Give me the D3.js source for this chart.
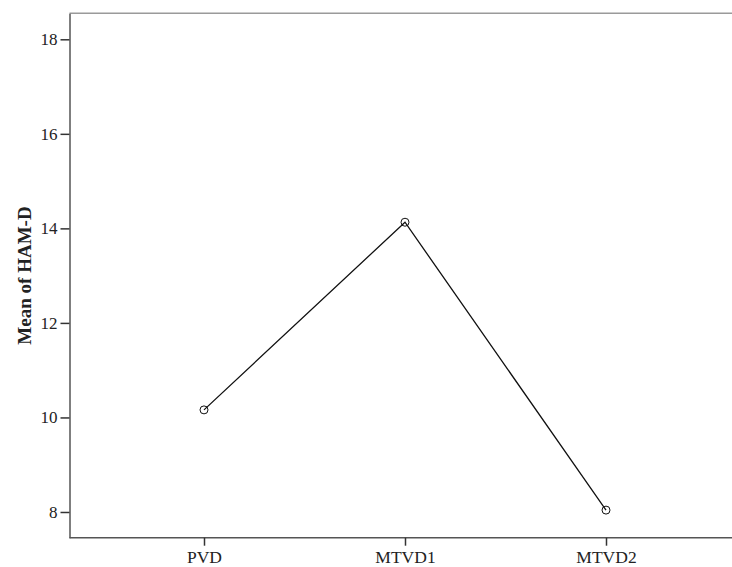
<!DOCTYPE html>
<html><head><meta charset="utf-8">
<script src="https://cdn.jsdelivr.net/npm/d3@7"></script>
<style>body{margin:0;background:#fff}svg{display:block}</style>
</head><body>
<svg id="c" width="732" height="567"></svg>
<script>
const categories = ["PVD", "MTVD1", "MTVD2"];
const means = [10.16, 14.13, 8.04];
const yTicks = [8, 10, 12, 14, 16, 18];

(function () {
const svg = d3.select("#c");
const mLeft = 69.5, mRight = 745, mTop = 13.3, mBottom = 537.7;
const x = d3.scalePoint().domain(categories).range([103.5, 706.5]).padding(0.5);
const y = d3.scaleLinear().domain([7.456, 18.55]).range([mBottom, mTop]);

svg.append("line").attr("x1", mLeft).attr("x2", mRight).attr("y1", mTop).attr("y2", mTop)
  .attr("stroke", "#9a9a9a").attr("stroke-width", 1.5);
svg.append("line").attr("x1", mLeft).attr("x2", mRight).attr("y1", mBottom).attr("y2", mBottom)
  .attr("stroke", "#555").attr("stroke-width", 1.5);

const font = "'Liberation Serif', serif";
const ya = svg.append("g").attr("transform", `translate(${mLeft},0)`)
  .call(d3.axisLeft(y).tickValues(yTicks).tickSize(9).tickSizeOuter(0).tickPadding(3).tickFormat(d3.format("d")));
ya.select(".domain").attr("stroke", "#555").attr("stroke-width", 1.5);
ya.selectAll(".tick line").attr("stroke", "#333").attr("stroke-width", 1.5);
ya.selectAll("text").attr("font-family", font).attr("font-size", 17).attr("fill", "#222");

const xa = svg.append("g").attr("transform", `translate(0,${mBottom})`)
  .call(d3.axisBottom(x).tickSize(8).tickSizeOuter(0).tickPadding(5));
xa.select(".domain").remove();
xa.selectAll(".tick line").attr("stroke", "#333").attr("stroke-width", 1.5);
xa.selectAll("text").attr("font-family", font).attr("font-size", 17.5).attr("fill", "#222");

svg.append("text").attr("transform", `translate(31,${(mTop + mBottom) / 2}) rotate(-90)`)
  .attr("text-anchor", "middle").attr("font-family", font).attr("font-weight", "bold")
  .attr("font-size", 19).attr("fill", "#222").text("Mean of HAM-D");

const data = categories.map((c, i) => ({c, v: means[i]}));
svg.append("path").datum(data)
  .attr("d", d3.line().x(d => x(d.c)).y(d => y(d.v)))
  .attr("fill", "none").attr("stroke", "#111").attr("stroke-width", 1.3);
svg.selectAll("circle.pt").data(data).join("circle").attr("class", "pt")
  .attr("cx", d => x(d.c)).attr("cy", d => y(d.v)).attr("r", 4)
  .attr("fill", "none").attr("stroke", "#111").attr("stroke-width", 1);
})();
</script>
</body></html>
